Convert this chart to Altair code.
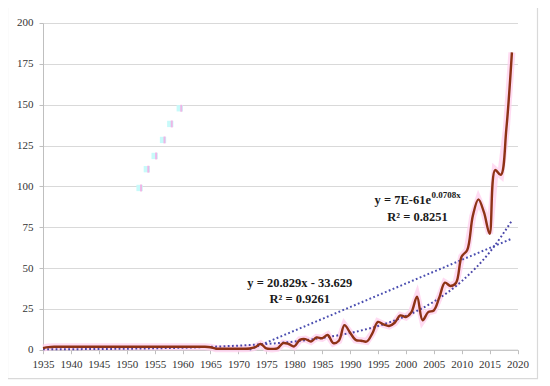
import altair as alt
import pandas as pd

# ---- data ----
years = list(range(1935, 2020))
values = (
    [1.0, 1.6, 1.8, 1.8, 1.8, 1.8, 1.8, 1.8, 1.8, 1.8]          # 1935-1944
    + [1.8, 1.8, 1.8, 1.8, 1.8, 1.8, 1.8, 1.8, 1.8, 1.8]        # 1945-1954
    + [1.8, 1.8, 1.8, 1.8, 1.8, 1.8, 1.8, 1.8, 1.8, 1.8]        # 1955-1964
    + [1.5, 0.6, 0.6, 0.6, 0.6, 0.6, 0.6, 0.7, 1.5, 3.5]        # 1965-1974
    + [0.8, 0.5, 0.8, 4.0, 3.5, 2.0, 6.0, 6.5, 5.0, 7.5]        # 1975-1984
    + [7.0, 9.0, 4.0, 5.5, 15.0, 10.5, 6.0, 5.5, 5.0, 10.0]     # 1985-1994
    + [17.0, 15.5, 14.5, 16.5, 21.0, 20.0, 23.0, 32.5, 18.0, 23.0]  # 1995-2004
    + [24.0, 32.0, 41.0, 39.0, 41.0, 57.0, 61.0, 82.0, 92.0, 84.0]  # 2005-2014
    + [71.0, 110.0, 107.0, 135.0, 182.0]                        # 2015-2019
)

lin_years = [1972, 2019]
lin_values = [0.0, 68.0]

exp_years = [1935, 1940, 1945, 1950, 1955, 1960, 1965, 1970, 1975, 1980,
             1985, 1990, 1995, 2000, 2005, 2010, 2015, 2019]
exp_values = [0.2, 0.3, 0.42, 0.6, 0.86, 1.2, 1.75, 2.5, 3.5, 5.0,
              7.2, 10.2, 14.5, 20.6, 29.4, 41.9, 59.6, 79.0]

art_years = [1952.3, 1953.6, 1955.0, 1956.5, 1957.8, 1959.5]
art_values = [99.0, 110.5, 118.6, 128.4, 138.2, 147.8]

x_ticks = list(range(1935, 2021, 5))
y_ticks = list(range(0, 201, 25))

lab_year = [1981, 1981, 2002.1]
lab_value = [40.8, 31.0, 81.5]
lab_text = ["y = 20.829x - 33.629", "R² = 0.9261", "R² = 0.8251"]

exp_main_year, exp_main_value, exp_main_text = [2004.5], [91.7], ["y = 7E-61e"]
exp_sup_text = ["0.0708x"]

df = pd.DataFrame({"year": years, "value": values})
df_lin = pd.DataFrame({"year": lin_years, "value": lin_values})
df_exp = pd.DataFrame({"year": exp_years, "value": exp_values})
df_art = pd.DataFrame({"year": art_years, "value": art_values})
df_lab = pd.DataFrame({"year": lab_year, "value": lab_value, "text": lab_text})
df_em = pd.DataFrame({"year": exp_main_year, "value": exp_main_value, "text": exp_main_text})
df_es = pd.DataFrame({"year": exp_main_year, "value": exp_main_value, "text": exp_sup_text})

FONT = "Liberation Serif"

xs = alt.Scale(domain=[1935, 2020], nice=False, zero=False)
ys = alt.Scale(domain=[0, 200], nice=False)

X = alt.X("year:Q", scale=xs, axis=alt.Axis(
    values=x_ticks, format="d", title=None, grid=False,
    domainColor="#bfbfbf", tickColor="#bfbfbf", tickSize=4,
    labelOverlap=False, labelFlush=False,
    labelPadding=5, labelFont=FONT, labelFontSize=11, labelColor="#333333"))
Y = alt.Y("value:Q", scale=ys, axis=alt.Axis(
    values=y_ticks, title=None, grid=True, gridColor="#d9d9d9",
    domainColor="#bfbfbf", tickColor="#bfbfbf", tickSize=4,
    labelOverlap=False, labelFlush=False,
    labelPadding=6, labelFont=FONT, labelFontSize=11, labelColor="#333333"))

frame = alt.Chart(pd.DataFrame({"a": [0]})).mark_rect(
    fill=None, stroke="#d9d9d9", strokeWidth=1.2
).encode(x=alt.value(-35.5), x2=alt.value(494.5), y=alt.value(-16.3), y2=alt.value(355.7))

glow = alt.Chart(df).mark_line(
    color="#ffd2ef", strokeWidth=7, opacity=0.8, interpolate="linear"
).encode(x=X, y=Y)

exp_line = alt.Chart(df_exp).mark_line(
    color="#4a46a8", strokeWidth=2, strokeDash=[1.8, 2.4], interpolate="monotone"
).encode(x=X, y=Y)

lin_line = alt.Chart(df_lin).mark_line(
    color="#4a4eb0", strokeWidth=2, strokeDash=[1.8, 2.4]
).encode(x=X, y=Y)

red = alt.Chart(df).mark_line(
    color="#8e3216", strokeWidth=2.4, interpolate="catmull-rom"
).encode(x=X, y=Y)

art_sq = alt.Chart(df_art).mark_square(
    size=40, color="#c8fafa", opacity=1
).encode(x=X, y=Y)
art_tk = alt.Chart(df_art).mark_tick(
    color="#ff99dd", thickness=2, size=7, orient="vertical", xOffset=1.5
).encode(x=X, y=Y)

labels = alt.Chart(df_lab).mark_text(
    font=FONT, fontSize=12.5, fontWeight="bold", color="#1a1a1a", baseline="middle"
).encode(x=X, y=Y, text="text:N")

em = alt.Chart(df_em).mark_text(
    font=FONT, fontSize=12.5, fontWeight="bold", color="#1a1a1a", baseline="middle", align="right"
).encode(x=X, y=Y, text="text:N")

es = alt.Chart(df_es).mark_text(
    font=FONT, fontSize=9, fontWeight="bold", color="#1a1a1a", baseline="middle", align="left",
    dx=0.5, dy=-5
).encode(x=X, y=Y, text="text:N")

chart = alt.layer(
    frame, glow, exp_line, lin_line, red, art_sq, art_tk, labels, em, es
).properties(
    width=474.5, height=326.7,
    autosize=alt.AutoSizeParams(type="none"),
    padding={"left": 35, "top": 15, "right": 22, "bottom": 31},
    background="white",
).configure_view(stroke=None)

chart.save("out.html", embed_options={"renderer": "svg", "actions": False})
